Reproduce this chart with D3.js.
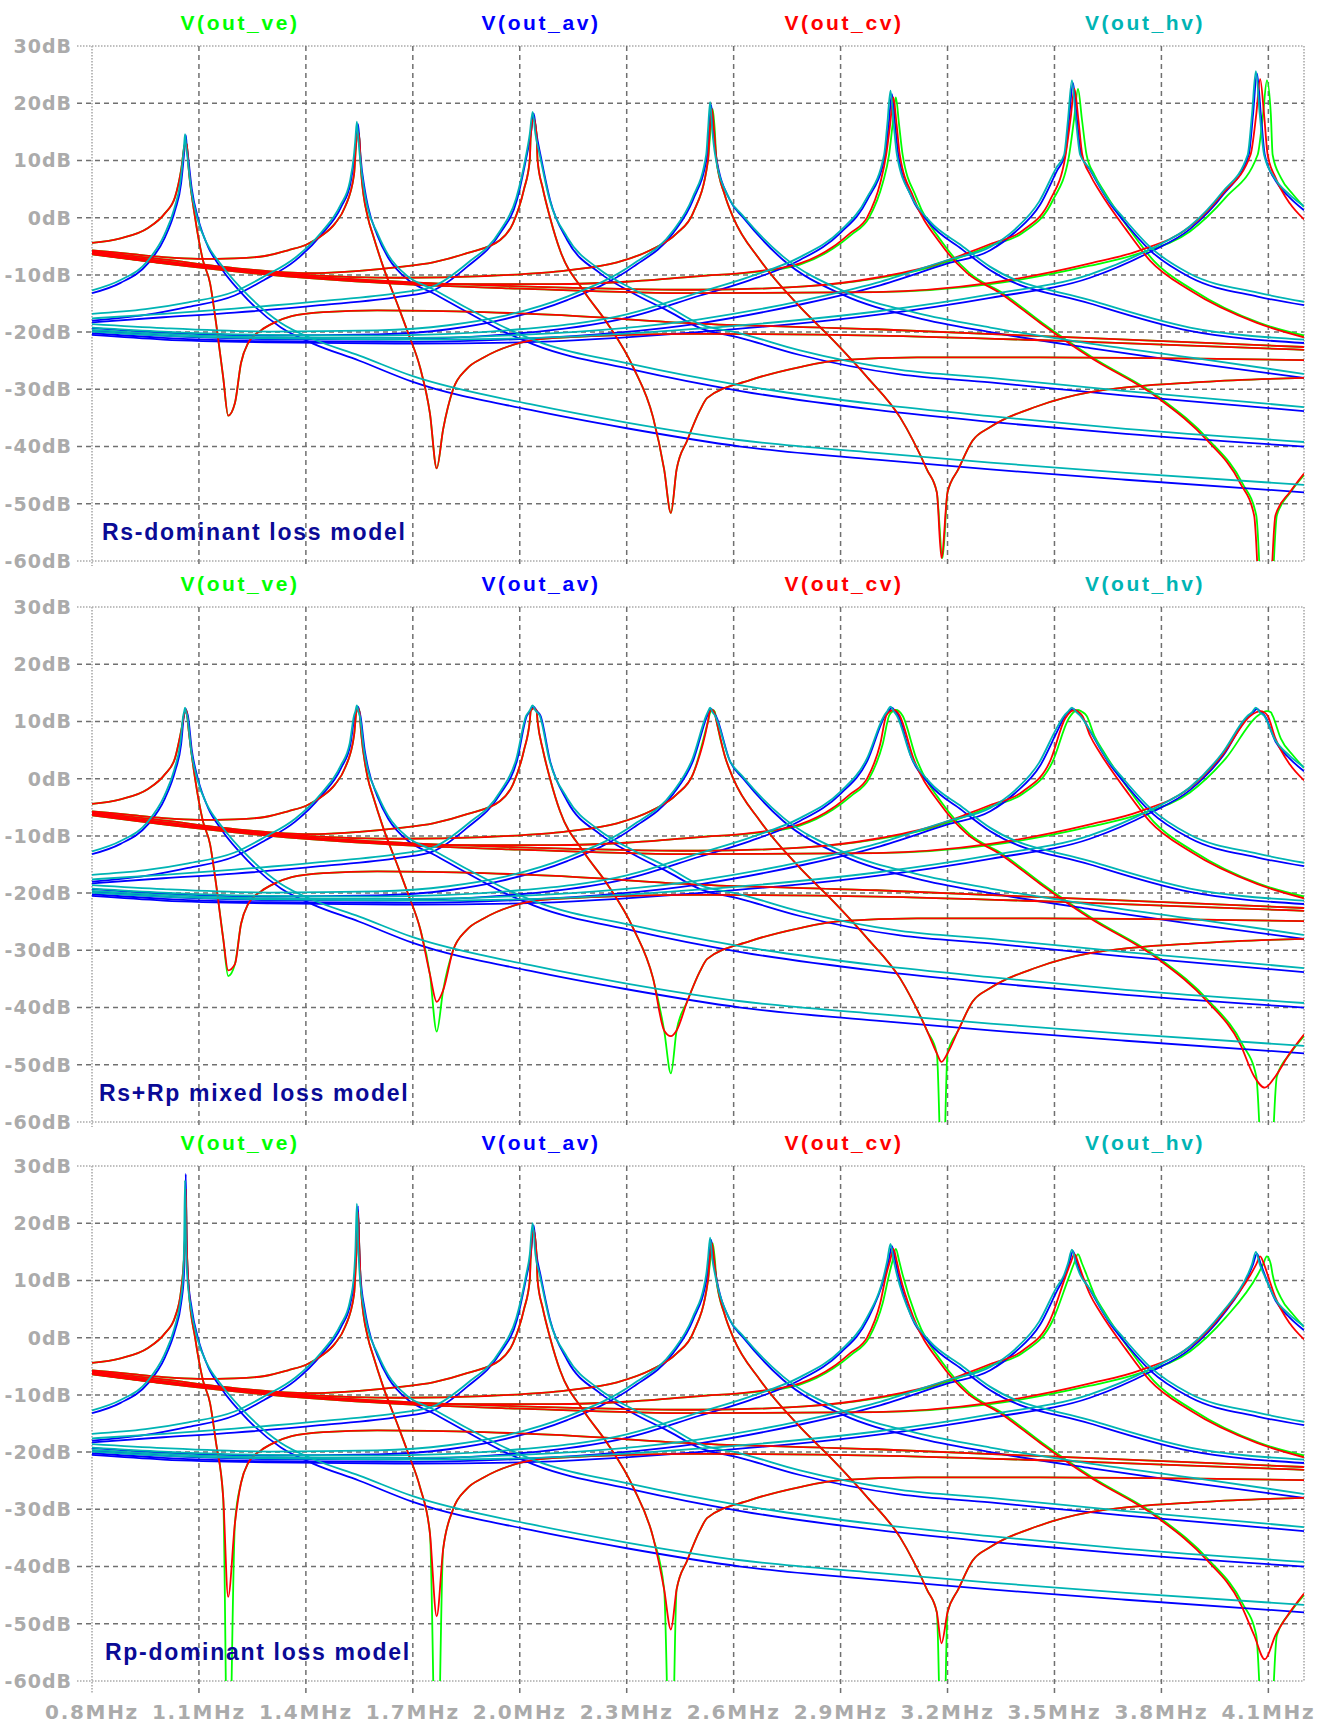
<!DOCTYPE html>
<html>
<head>
<meta charset="utf-8">
<script src="https://cdn.jsdelivr.net/npm/d3@7"></script>
<style>
  body { margin: 0; background: #fff; }
</style>
</head>
<body>
<div id="chart"></div>
<script>
// ---------- data (MHz, dB) ----------
var panelNotes = ["Rs-dominant loss model", "Rs+Rp mixed loss model", "Rp-dominant loss model"];
var traceNames = ["V(out_ve)", "V(out_av)", "V(out_cv)", "V(out_hv)"];
var yTicks = [30, 20, 10, 0, -10, -20, -30, -40, -50, -60];
var xTicks = [0.8, 1.1, 1.4, 1.7, 2.0, 2.3, 2.6, 2.9, 3.2, 3.5, 3.8, 4.1];

// V(out_av), one list per step, peak point kept apart (see avPeak*)
var av1 = [[0.8,-13.2],[0.88,-11.4],[0.957,-8.0],[1.005,-3.4],[1.033,1.3],[1.05,6.0],[1.058,11],[1.069,11],[1.08,5],[1.097,0],[1.125,-5],[1.162,-8.8],[1.238,-14.4],[1.33,-19.2],[1.42,-22],[1.55,-25],[1.7,-28.7],[2.03,-33.6],[2.3,-36.8],[2.62,-40],[3.0,-42.3],[3.32,-44],[3.7,-45.8],[4.2,-48]];
var av2 = [[0.8,-18],[0.95,-17],[1.07,-15.6],[1.2,-13.6],[1.285,-10.8],[1.37,-7.5],[1.443,-3],[1.499,1.9],[1.525,6],[1.537,11],[1.553,11],[1.565,5],[1.574,2],[1.6,-3],[1.631,-7],[1.687,-10.9],[1.757,-13.2],[1.852,-16.5],[1.945,-19.6],[2.04,-22.2],[2.32,-26.6],[2.62,-30.3],[3.0,-33.6],[3.32,-35.7],[3.7,-37.8],[4.2,-40]];
var av3 = [[0.8,-18.3],[1.0,-17.4],[1.2,-16.6],[1.44,-15.3],[1.664,-13.8],[1.757,-12.7],[1.852,-8.6],[1.945,-2.7],[1.992,3.1],[2.02,11],[2.058,11],[2.085,3.1],[2.133,-3.9],[2.225,-9.7],[2.318,-13.2],[2.413,-16.2],[2.506,-19.3],[2.618,-21],[2.786,-24],[3.067,-27.4],[3.32,-28.8],[3.7,-31.1],[4.2,-33.8]];
var av4 = [[0.8,-19.3],[1.0,-20.1],[1.3,-20.6],[1.6,-20.4],[1.8,-19.5],[1.945,-17.9],[2.133,-14.4],[2.318,-8.6],[2.43,-2.7],[2.486,3.1],[2.526,11],[2.55,11],[2.59,3],[2.627,0],[2.739,-7.4],[2.907,-13.5],[3.115,-17.5],[3.32,-20],[3.6,-22.8],[3.9,-25.5],[4.2,-28]];
var av5 = [[0.8,-19.8],[1.0,-20.6],[1.3,-21.2],[1.6,-21.3],[2.0,-20.2],[2.3,-17.5],[2.506,-13.6],[2.646,-10.9],[2.786,-7.4],[2.899,-2.7],[2.975,3.1],[3.025,11],[3.062,11],[3.1,3.5],[3.15,-1],[3.24,-5.5],[3.32,-9.2],[3.6,-15],[3.88,-19.8],[4.2,-21.9]];
var av6 = [[0.8,-20.2],[1.0,-21],[1.3,-21.6],[1.7,-21.7],[2.0,-21.2],[2.5,-18.5],[2.8,-15],[3.0,-12],[3.2,-8],[3.32,-5.7],[3.39,-2.5],[3.46,2.3],[3.508,8.3],[3.53,11],[3.575,11],[3.6,8.3],[3.65,3],[3.693,-0.5],[3.768,-5.7],[3.88,-10.4],[4.07,-13.8],[4.2,-15.3]];
var av7 = [[0.8,-20.5],[1.0,-21.3],[1.3,-21.8],[1.7,-22],[2.0,-21.8],[2.5,-20],[3.0,-17],[3.32,-14],[3.6,-10.5],[3.768,-6],[3.88,-2],[3.973,4],[4.045,11],[4.09,11],[4.12,6.5],[4.16,3.5],[4.2,1.3]];

// V(out_hv)
var hv1 = [[0.8,-12.7],[0.88,-10.9],[0.957,-7.5],[1.003,-3],[1.031,1.6],[1.048,6.3],[1.056,11],[1.067,11],[1.078,5],[1.095,0],[1.123,-4.6],[1.162,-8.2],[1.238,-13.6],[1.33,-18.4],[1.42,-21.2],[1.55,-24.1],[1.7,-27.7],[2.03,-32.6],[2.3,-35.8],[2.62,-38.9],[3.0,-41.1],[3.32,-42.8],[3.7,-44.6],[4.2,-46.7]];
var hv2 = [[0.8,-16.8],[0.95,-16],[1.07,-14.8],[1.2,-12.9],[1.285,-10.2],[1.37,-7],[1.443,-2.6],[1.497,2.2],[1.523,6.2],[1.535,11],[1.551,11],[1.563,5],[1.572,2],[1.6,-2.6],[1.631,-6.5],[1.687,-10.3],[1.757,-12.5],[1.852,-15.8],[1.945,-18.8],[2.04,-21.4],[2.32,-25.7],[2.62,-29.3],[3.0,-32.6],[3.32,-34.7],[3.7,-36.9],[4.2,-39.2]];
var hv3 = [[0.8,-17.6],[1.0,-16.8],[1.2,-15.9],[1.44,-14.6],[1.664,-13.1],[1.757,-12],[1.852,-8],[1.945,-2.3],[1.99,3.4],[2.018,11],[2.056,11],[2.083,3.3],[2.133,-3.4],[2.225,-9.1],[2.318,-12.5],[2.413,-15.4],[2.506,-18.6],[2.618,-20.2],[2.786,-23.2],[3.067,-26.6],[3.32,-28],[3.7,-30.3],[4.2,-33.1]];
var hv4 = [[0.8,-18.6],[1.0,-19.3],[1.3,-19.9],[1.6,-19.7],[1.8,-18.8],[1.945,-17.3],[2.133,-13.8],[2.318,-8.1],[2.43,-2.3],[2.484,3.4],[2.523,11],[2.548,11],[2.588,3.3],[2.625,0.4],[2.739,-6.8],[2.907,-12.8],[3.115,-16.7],[3.32,-19.2],[3.6,-22],[3.9,-24.6],[4.2,-27.3]];
var hv5 = [[0.8,-19.2],[1.0,-19.9],[1.3,-20.5],[1.6,-20.6],[2.0,-19.5],[2.3,-16.9],[2.506,-13],[2.646,-10.3],[2.786,-6.9],[2.899,-2.3],[2.973,3.4],[3.022,11],[3.058,11],[3.098,3.8],[3.15,-0.6],[3.24,-4.9],[3.32,-8.6],[3.6,-14.4],[3.88,-19.2],[4.2,-21.3]];
var hv6 = [[0.8,-19.6],[1.0,-20.3],[1.3,-20.9],[1.7,-21],[2.0,-20.5],[2.5,-17.8],[2.8,-14.4],[3.0,-11.4],[3.2,-7.4],[3.32,-5.1],[3.39,-2],[3.457,2.8],[3.505,8.7],[3.527,11],[3.572,11],[3.597,8.7],[3.648,3.4],[3.693,0],[3.768,-5.1],[3.88,-9.8],[4.07,-13.1],[4.2,-14.7]];
var hv7 = [[0.8,-19.9],[1.0,-20.6],[1.3,-21.1],[1.7,-21.3],[2.0,-21.1],[2.5,-19.4],[3.0,-16.4],[3.32,-13.4],[3.6,-9.9],[3.768,-5.5],[3.88,-1.5],[3.97,4.4],[4.042,11],[4.088,11],[4.118,6.9],[4.16,4],[4.2,2]];

// V(out_cv), peak and notch points kept apart
var cv1 = [[0.8,-4.4],[0.88,-3.6],[0.957,-1.8],[1.005,0.8],[1.033,3.6],[1.05,8.3],[1.072,8],[1.089,0.1],[1.111,-7.4],[1.131,-11.4],[1.148,-18.4],[1.168,-27.9],[1.201,-32.4],[1.218,-25.4],[1.238,-21.9],[1.274,-19.7],[1.313,-18.3],[1.36,-17.2],[1.45,-16.5],[1.6,-16.2],[1.9,-16.5],[2.1,-17],[2.5,-18.5],[3.0,-19.5],[3.5,-20.8],[4.2,-22.6]];
var cv2 = [[0.8,-5.7],[0.9,-6.3],[1.0,-6.9],[1.1,-7.2],[1.2,-7.1],[1.285,-6.7],[1.35,-5.7],[1.405,-4.6],[1.443,-3.2],[1.482,-1],[1.51,1.9],[1.535,7.5],[1.555,8],[1.574,0],[1.588,-3],[1.617,-8.6],[1.656,-15],[1.687,-20.2],[1.72,-26.1],[1.748,-34.2],[1.785,-37],[1.813,-30],[1.85,-26.5],[1.9,-24.4],[2.0,-21.9],[2.1,-21],[2.5,-20.3],[3.0,-20.6],[3.5,-21.5],[4.2,-23.1]];
var cv3 = [[0.8,-5.9],[1.0,-7.3],[1.2,-8.8],[1.406,-9.7],[1.55,-9.3],[1.664,-8.6],[1.757,-7.8],[1.852,-6.2],[1.945,-3.9],[1.981,-1],[2.012,5],[2.028,10],[2.05,10],[2.065,5],[2.085,0],[2.113,-5.7],[2.178,-12.7],[2.245,-18.4],[2.318,-26.1],[2.374,-34.9],[2.405,-44],[2.44,-44],[2.47,-38.9],[2.506,-33.6],[2.526,-31.5],[2.646,-28.4],[2.786,-26.1],[2.899,-24.9],[3.115,-24.4],[3.46,-24.4],[4.2,-24.9]];
var cv4 = [[0.8,-6.1],[1.0,-7.6],[1.2,-9],[1.4,-10],[1.664,-10.5],[1.9,-10.2],[2.133,-9.2],[2.273,-7.8],[2.366,-5.7],[2.441,-2.7],[2.486,0.8],[2.528,10],[2.552,10],[2.575,4],[2.599,0],[2.674,-7.4],[2.786,-15.6],[2.879,-21.4],[2.975,-27.9],[3.067,-34.9],[3.143,-44.1],[3.17,-48],[3.2,-48],[3.23,-44],[3.27,-39],[3.32,-36.6],[3.45,-33],[3.6,-30.5],[3.917,-28.7],[4.2,-28]];
var cv5 = [[0.8,-6.2],[1.0,-7.8],[1.2,-9.2],[1.5,-10.8],[1.8,-11.6],[2.1,-11.6],[2.3,-11.2],[2.506,-10.2],[2.646,-9.5],[2.786,-8],[2.879,-5.1],[2.927,-2.7],[2.975,0.1],[3.011,6],[3.028,11],[3.066,11],[3.104,3.6],[3.179,-4.4],[3.255,-9.7],[3.348,-13.2],[3.46,-18.4],[3.6,-24.4],[3.788,-31.4],[3.928,-38.9],[4.021,-46.4],[4.06,-52],[4.12,-52],[4.16,-48],[4.2,-44.7]];
var cv6 = [[0.8,-6.3],[1.0,-7.9],[1.3,-9.8],[1.7,-11.3],[2.0,-12],[2.5,-12.6],[2.8,-12],[3.0,-10.5],[3.16,-8.3],[3.25,-6.3],[3.32,-4.6],[3.412,-2.2],[3.488,3.1],[3.53,10.5],[3.578,11],[3.6,7.5],[3.628,4.5],[3.7,-2],[3.768,-7.5],[3.88,-12.7],[4.068,-18.4],[4.2,-20.9]];
var cv7 = [[0.8,-6.4],[1.0,-8],[1.3,-10],[1.7,-11.7],[2.0,-12.4],[2.5,-13.2],[3.0,-13],[3.32,-11.4],[3.6,-8],[3.74,-5.7],[3.88,-1.6],[3.973,4.3],[4.05,11],[4.098,11],[4.12,7],[4.16,2.5],[4.2,-0.3]];

// V(out_ve): lies on V(out_cv) for the first four steps, a touch to the right for the last three
var ve1 = cv1, ve2 = cv2, ve3 = cv3, ve4 = cv4;
var ve5 = [[0.8,-6.2],[1.0,-7.8],[1.2,-9.2],[1.5,-10.8],[1.8,-11.6],[2.1,-11.6],[2.3,-11.2],[2.506,-10.2],[2.646,-9.6],[2.786,-8.2],[2.879,-5.4],[2.93,-3],[2.98,0],[3.018,6],[3.036,11],[3.074,11],[3.112,3.6],[3.186,-4.4],[3.262,-9.7],[3.355,-13.2],[3.466,-18.4],[3.606,-24.4],[3.794,-31.4],[3.934,-38.9],[4.027,-46.4],[4.066,-52],[4.124,-52],[4.162,-48],[4.2,-45]];
var ve6 = [[0.8,-6.3],[1.0,-7.9],[1.3,-9.8],[1.7,-11.3],[2.0,-12],[2.5,-12.6],[2.8,-12],[3.0,-10.6],[3.16,-8.5],[3.25,-6.6],[3.32,-4.9],[3.412,-2.6],[3.495,3],[3.54,10.5],[3.59,11],[3.612,7.5],[3.64,4.5],[3.71,-2],[3.778,-7.5],[3.89,-12.7],[4.075,-18.4],[4.2,-20.6]];
var ve7 = [[0.8,-6.4],[1.0,-8],[1.3,-10],[1.7,-11.7],[2.0,-12.4],[2.5,-13.2],[3.0,-13],[3.32,-11.6],[3.6,-8.4],[3.74,-6.2],[3.88,-2.4],[3.98,3.5],[4.07,11],[4.112,11],[4.135,7],[4.17,4],[4.2,1.9]];

// resonance peaks per step; one row of dB per panel
var avPeakF = [1.063, 1.546, 2.039, 2.537, 3.044, 3.552, 4.068];
var avPeakDb = [[14.4, 16.4, 18.2, 19.7, 21.6, 23.5, 25.2],
                [12.2, 12.6, 12.6, 12.2, 12.4, 12.2, 12.2],
                [28.6, 23, 19.6, 17.1, 16, 15.1, 14.7]];
var hvPeakF = [1.061, 1.543, 2.036, 2.534, 3.04, 3.549, 4.065];
var hvPeakDb = [[14.6, 16.8, 18.5, 20.2, 22.2, 24, 25.6],
                [12.4, 12.8, 12.8, 12.4, 12.6, 12.4, 12.4],
                [27.5, 23.4, 20, 17.5, 16.4, 15.4, 15]];
var cvPeakF = [1.063, 1.546, 2.039, 2.539, 3.048, 3.556, 4.077];
var cvPeakDb = [[13, 15, 17.3, 19, 21, 22.5, 24.2],
                [12, 12.3, 12.3, 12, 12, 12, 11.8],
                [26, 22, 18.8, 16.5, 15.5, 14.6, 14.2]];
var vePeakF = [1.063, 1.546, 2.039, 2.541, 3.055, 3.566, 4.096];
var vePeakDb = [[13, 15, 17.3, 19, 21, 22.5, 24],
                [12, 12.3, 12.3, 12, 12, 12, 11.8],
                [26, 22, 18.8, 16.5, 15.5, 14.6, 14.2]];

// level of the cusp a little below each peak (same for all four traces), and its half-width in MHz
var shoulderDf = [0.0025, 0.004, 0.008, 0.006, 0.009, 0.011, 0.011];
var shoulderDb = [[12.8, 13.8, 14.6, 15.3, 16.3, 17.2, 18],
                  [11.7, 11.8, 11.9, 11.7, 11.8, 11.7, 11.6],
                  [17, 15.5, 14.5, 13.8, 13.5, 13, 12.8]];

// anti-resonance notches (first five steps)
var cvNotchF = [1.182, 1.767, 2.424, 3.183, 4.09];
var cvNotchDb = [[-34.6, -43.8, -51.6, -59.5, -85],
                 [-33.5, -39, -45, -49.5, -54],
                 [-45.3, -48.7, -51, -53.4, -56.2]];
var veNotchF = [1.182, 1.767, 2.424, 3.186, 4.095];
var veNotchDb = [[-34.6, -43.8, -51.6, -59.5, -85],
                 [-34.5, -44.2, -51.5, -75, -85],
                 [-85, -85, -85, -85, -85]];

// ---------- drawing ----------
var W = 1323, H = 1729;
var plotLeft = 92, plotRight = 1304, panelH = 515;
var panelTops = [46, 607, 1166];
var legendX = [240, 541, 844, 1145];
var axisFont = "'DejaVu Sans', sans-serif";
var labelFont = "'Liberation Sans', Arial, sans-serif";

var traces = [
    { name: traceNames[0], color: "#00ff00", curves: [ve1, ve2, ve3, ve4, ve5, ve6, ve7], peakF: vePeakF, peakDb: vePeakDb, notchF: veNotchF, notchDb: veNotchDb },
    { name: traceNames[1], color: "#0000ff", curves: [av1, av2, av3, av4, av5, av6, av7], peakF: avPeakF, peakDb: avPeakDb },
    { name: traceNames[2], color: "#ff0000", curves: [cv1, cv2, cv3, cv4, cv5, cv6, cv7], peakF: cvPeakF, peakDb: cvPeakDb, notchF: cvNotchF, notchDb: cvNotchDb },
    { name: traceNames[3], color: "#00b4b4", curves: [hv1, hv2, hv3, hv4, hv5, hv6, hv7], peakF: hvPeakF, peakDb: hvPeakDb }
];

var svg = d3.select("#chart").append("svg")
    .attr("width", W)
    .attr("height", H)
    .style("display", "block");

var x = d3.scaleLinear().domain([0.8, 4.2]).range([plotLeft, plotRight]);

panelTops.forEach(function (top, p) {
    var y = d3.scaleLinear().domain([-60, 30]).range([top + panelH, top]);
    var g = svg.append("g");

    g.append("clipPath").attr("id", "clip" + p)
        .append("rect")
        .attr("x", plotLeft).attr("y", top)
        .attr("width", plotRight - plotLeft).attr("height", panelH);

    // horizontal grid + y labels
    yTicks.forEach(function (v) {
        var edge = (v === 30 || v === -60);
        g.append("line")
            .attr("x1", 77).attr("x2", plotRight)
            .attr("y1", y(v)).attr("y2", y(v))
            .attr("stroke", edge ? "#ababab" : "#707070")
            .attr("stroke-width", edge ? 1.6 : 1.5)
            .attr("stroke-dasharray", edge ? "1.5,1.5" : "5,4");
        g.append("text")
            .attr("x", 72).attr("y", y(v))
            .attr("dy", "0.36em")
            .attr("text-anchor", "end")
            .attr("fill", "#ababab")
            .style("font-family", axisFont)
            .style("font-weight", "bold")
            .style("font-size", "19px")
            .style("letter-spacing", "1px")
            .text(v + "dB");
    });

    // vertical grid
    xTicks.forEach(function (f) {
        var edge = (f === 0.8);
        g.append("line")
            .attr("x1", x(f)).attr("x2", x(f))
            .attr("y1", top).attr("y2", top + panelH + (p === 2 ? 12 : 5))
            .attr("stroke", edge ? "#ababab" : "#707070")
            .attr("stroke-width", edge ? 1.6 : 1.5)
            .attr("stroke-dasharray", edge ? "1.5,1.5" : "5,4");
    });
    g.append("line")
        .attr("x1", plotRight).attr("x2", plotRight)
        .attr("y1", top).attr("y2", top + panelH)
        .attr("stroke", "#ababab").attr("stroke-width", 1.6)
        .attr("stroke-dasharray", "1.5,1.5");

    // traces
    var plot = g.append("g").attr("clip-path", "url(#clip" + p + ")");
    var line = d3.line()
        .x(function (d) { return x(d[0]); })
        .y(function (d) { return y(d[1]); })
        .curve(d3.curveMonotoneX);

    traces.forEach(function (tr) {
        tr.curves.forEach(function (base, k) {
            var pts = base.slice();
            var pf = tr.peakF[k];
            pts.push([pf - shoulderDf[k], shoulderDb[p][k]]);
            pts.push([pf, tr.peakDb[p][k]]);
            pts.push([pf + shoulderDf[k], shoulderDb[p][k]]);
            if (tr.notchF && k < tr.notchF.length) {
                pts.push([tr.notchF[k], tr.notchDb[p][k]]);
            }
            pts.sort(function (a, b) { return a[0] - b[0]; });
            plot.append("path")
                .datum(pts)
                .attr("d", line)
                .attr("fill", "none")
                .attr("stroke", tr.color)
                .attr("stroke-width", 1.8)
                .attr("stroke-linejoin", "round");
        });
    });

    // legend
    traces.forEach(function (tr, i) {
        g.append("text")
            .attr("x", legendX[i]).attr("y", top - 16)
            .attr("text-anchor", "middle")
            .attr("fill", tr.color)
            .style("font-family", labelFont)
            .style("font-weight", "bold")
            .style("font-size", "21px")
            .style("letter-spacing", "2.6px")
            .text(tr.name);
    });

    // model note
    g.append("text")
        .attr("x", p === 2 ? 105 : (p === 1 ? 99 : 102))
        .attr("y", top + panelH - 21)
        .attr("fill", "#0a0a96")
        .style("font-family", labelFont)
        .style("font-weight", "bold")
        .style("font-size", "23px")
        .style("letter-spacing", "1.7px")
        .text(panelNotes[p]);
});

// x labels under the last panel
var bottom = panelTops[2] + panelH;
xTicks.forEach(function (f) {
    svg.append("text")
        .attr("x", x(f)).attr("y", bottom + 38)
        .attr("text-anchor", "middle")
        .attr("fill", "#ababab")
        .style("font-family", axisFont)
        .style("font-weight", "bold")
        .style("font-size", "20px")
        .style("letter-spacing", "1.7px")
        .text(f.toFixed(1) + "MHz");
});
</script>
</body>
</html>
